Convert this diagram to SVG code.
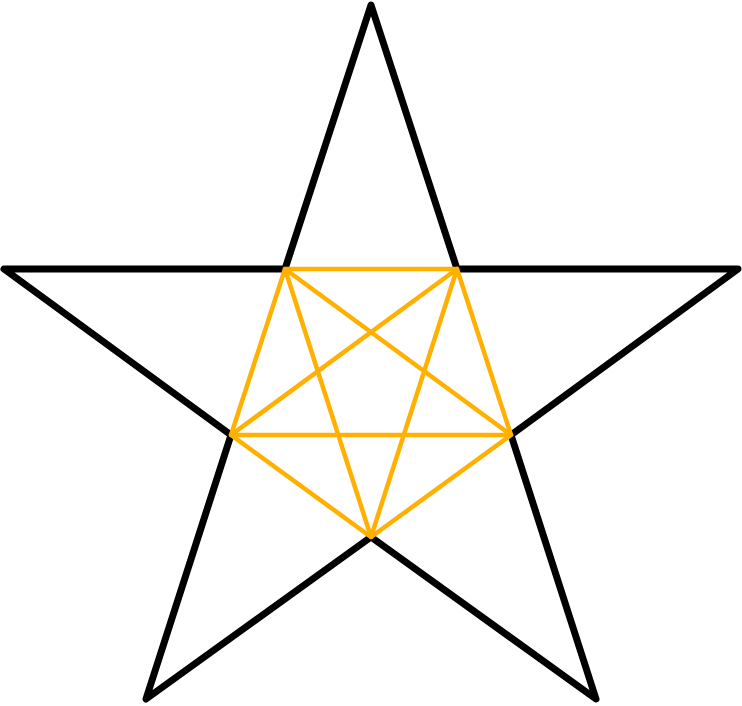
<svg xmlns="http://www.w3.org/2000/svg" width="742" height="706" viewBox="0 0 742 706">
<style>
.star{fill:none;stroke:#000;stroke-width:7;stroke-linejoin:round;stroke-linecap:round}
.inner{fill:none;stroke:#FFB000;stroke-width:4.5;stroke-linejoin:round;stroke-linecap:round}
</style>
<rect width="742" height="706" fill="#fff"/>
<g id="star">
<polygon class="star" points="371,5 457,269 738,269 511,435 596,699 371,537 146,699 231,435 4,269 285,269"/>
</g>
<g id="connectors">
<polygon class="inner" points="285,269 457,269 511,435 371,537 231,435"/>
<polygon class="inner" points="285,269 511,435 231,435 457,269 371,537"/>
</g>
</svg>
